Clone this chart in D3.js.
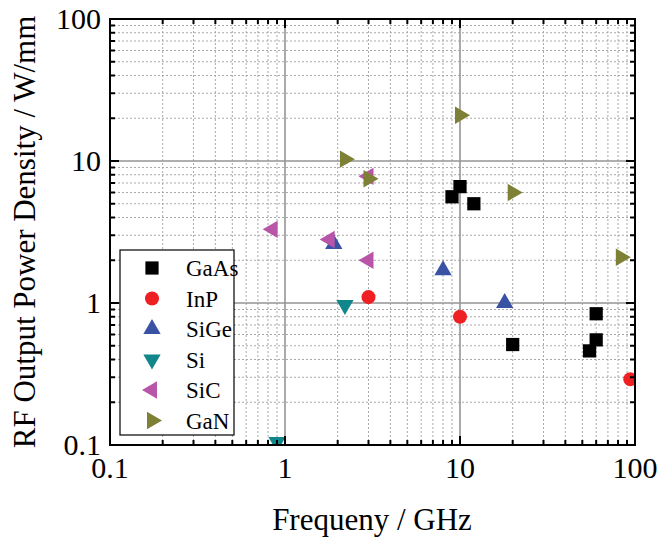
<!DOCTYPE html>
<html>
<head>
<meta charset="utf-8">
<script src="https://cdn.jsdelivr.net/npm/d3@7"></script>
<style>
  body { margin: 0; background: #fff; }
</style>
</head>
<body>
<div id="chart"></div>
<script>
// data: [frequency GHz, power density W/mm]
const materials = ["GaAs", "InP", "SiGe", "Si", "SiC", "GaN"];
const gaas = [[9, 5.6], [10, 6.6], [12, 5.0], [20, 0.51], [55, 0.46], [60, 0.55], [60, 0.84]];
const inp = [[3, 1.1], [10, 0.8], [94, 0.29]];
const sige = [[1.9, 2.6], [8, 1.7], [18, 1.0]];
const si = [[0.9, 0.105], [2.2, 0.97]];
const sic = [[0.85, 3.3], [1.8, 2.8], [3, 2.0], [3, 7.8]];
const gan = [[2.2, 10.3], [3, 7.5], [10, 21], [20, 6.0], [83, 2.1]];
const xTicks = [0.1, 1, 10, 100];
const yTicks = [0.1, 1, 10, 100];

const series = [gaas, inp, sige, si, sic, gan];
const colors = ["#000000", "#ee2024", "#3a52a4", "#11868b", "#b855a8", "#7e8035"];
const shapes = ["square", "circle", "up", "down", "left", "right"];
const font = "'Liberation Serif', 'Times New Roman', 'DejaVu Serif', serif";

const width = 660, height = 543;
const margin = { left: 110, right: 25, top: 19, bottom: 98 };
const iw = width - margin.left - margin.right;
const ih = height - margin.top - margin.bottom;

const svg = d3.select("#chart").append("svg")
    .attr("width", width)
    .attr("height", height)
    .style("font-family", font);

const x = d3.scaleLog().domain([0.1, 100]).range([0, iw]);
const y = d3.scaleLog().domain([0.1, 100]).range([ih, 0]);

const g = svg.append("g")
    .attr("transform", "translate(" + margin.left + "," + margin.top + ")");

// minor values 2..9 in each decade
const minor = [];
[0.1, 1, 10].forEach(d => { for (let k = 2; k <= 9; k++) minor.push(d * k); });

// grid
g.selectAll(".xminor").data(minor).enter().append("line")
    .attr("x1", d => x(d)).attr("x2", d => x(d))
    .attr("y1", 0).attr("y2", ih)
    .attr("stroke", "#a8a8a8").attr("stroke-width", 1).attr("stroke-dasharray", "2,2");
g.selectAll(".yminor").data(minor).enter().append("line")
    .attr("y1", d => y(d)).attr("y2", d => y(d))
    .attr("x1", 0).attr("x2", iw)
    .attr("stroke", "#a8a8a8").attr("stroke-width", 1).attr("stroke-dasharray", "2,2");
g.selectAll(".xmajor").data([1, 10]).enter().append("line")
    .attr("x1", d => x(d)).attr("x2", d => x(d))
    .attr("y1", 0).attr("y2", ih)
    .attr("stroke", "#959595").attr("stroke-width", 1.6);
g.selectAll(".ymajor").data([1, 10]).enter().append("line")
    .attr("y1", d => y(d)).attr("y2", d => y(d))
    .attr("x1", 0).attr("x2", iw)
    .attr("stroke", "#959595").attr("stroke-width", 1.6);

// points
const sym = {
    square: d3.symbol().type(d3.symbolSquare).size(175),
    circle: d3.symbol().type(d3.symbolCircle).size(155),
    tri: d3.symbol().type(d3.symbolTriangle).size(130)
};
const rot = { up: 0, down: 180, left: -90, right: 90 };

function marker(sel, shape) {
    if (shape === "square") return sel.append("path").attr("d", sym.square());
    if (shape === "circle") return sel.append("path").attr("d", sym.circle());
    return sel.append("path").attr("d", sym.tri()).attr("transform", "rotate(" + rot[shape] + ")");
}

svg.append("clipPath").attr("id", "clip")
    .append("rect").attr("width", iw).attr("height", ih);

const pts = g.append("g").attr("clip-path", "url(#clip)");
series.forEach((s, i) => {
    s.forEach(p => {
        const m = pts.append("g")
            .attr("transform", "translate(" + x(p[0]) + "," + y(p[1]) + ")")
            .attr("fill", colors[i]);
        marker(m, shapes[i]);
    });
});

// ticks on all four sides, pointing inside
const ticks = g.append("g").attr("stroke", "#000").attr("stroke-width", 2);
const allX = xTicks.concat(minor);
allX.forEach(v => {
    const len = xTicks.indexOf(v) >= 0 ? 9 : 5;
    ticks.append("line").attr("x1", x(v)).attr("x2", x(v)).attr("y1", ih).attr("y2", ih - len);
    ticks.append("line").attr("x1", x(v)).attr("x2", x(v)).attr("y1", 0).attr("y2", len);
});
const allY = yTicks.concat(minor);
allY.forEach(v => {
    const len = yTicks.indexOf(v) >= 0 ? 9 : 5;
    ticks.append("line").attr("y1", y(v)).attr("y2", y(v)).attr("x1", 0).attr("x2", len);
    ticks.append("line").attr("y1", y(v)).attr("y2", y(v)).attr("x1", iw).attr("x2", iw - len);
});

g.append("rect").attr("width", iw).attr("height", ih)
    .attr("fill", "none").attr("stroke", "#000").attr("stroke-width", 2);

// tick labels
g.selectAll(".xl").data(xTicks).enter().append("text")
    .attr("x", d => x(d)).attr("y", ih + 33)
    .attr("text-anchor", "middle").attr("font-size", 30)
    .text(d => d3.format("~g")(d));
g.selectAll(".yl").data(yTicks).enter().append("text")
    .attr("x", -9).attr("y", d => y(d) + 10)
    .attr("text-anchor", "end").attr("font-size", 30)
    .text(d => d3.format("~g")(d));

// axis titles
svg.append("text")
    .attr("x", 372).attr("y", 530)
    .attr("text-anchor", "middle").attr("font-size", 31)
    .text("Frequeny / GHz");
svg.append("text")
    .attr("transform", "translate(35," + (margin.top + ih / 2) + ") rotate(-90)")
    .attr("text-anchor", "middle").attr("font-size", 31)
    .text("RF Output Power Density / W/mm");

// legend
const lg = g.append("g").attr("transform", "translate(10,231)");
lg.append("rect").attr("width", 114).attr("height", 185)
    .attr("fill", "#fff").attr("stroke", "#000").attr("stroke-width", 1.2);
materials.forEach((name, i) => {
    const row = lg.append("g").attr("transform", "translate(0," + (18 + i * 30.5) + ")");
    const m = row.append("g").attr("transform", "translate(32,0)").attr("fill", colors[i]);
    marker(m, shapes[i]);
    row.append("text").attr("x", 66).attr("y", 8).attr("font-size", 23).text(name);
});
</script>
</body>
</html>
